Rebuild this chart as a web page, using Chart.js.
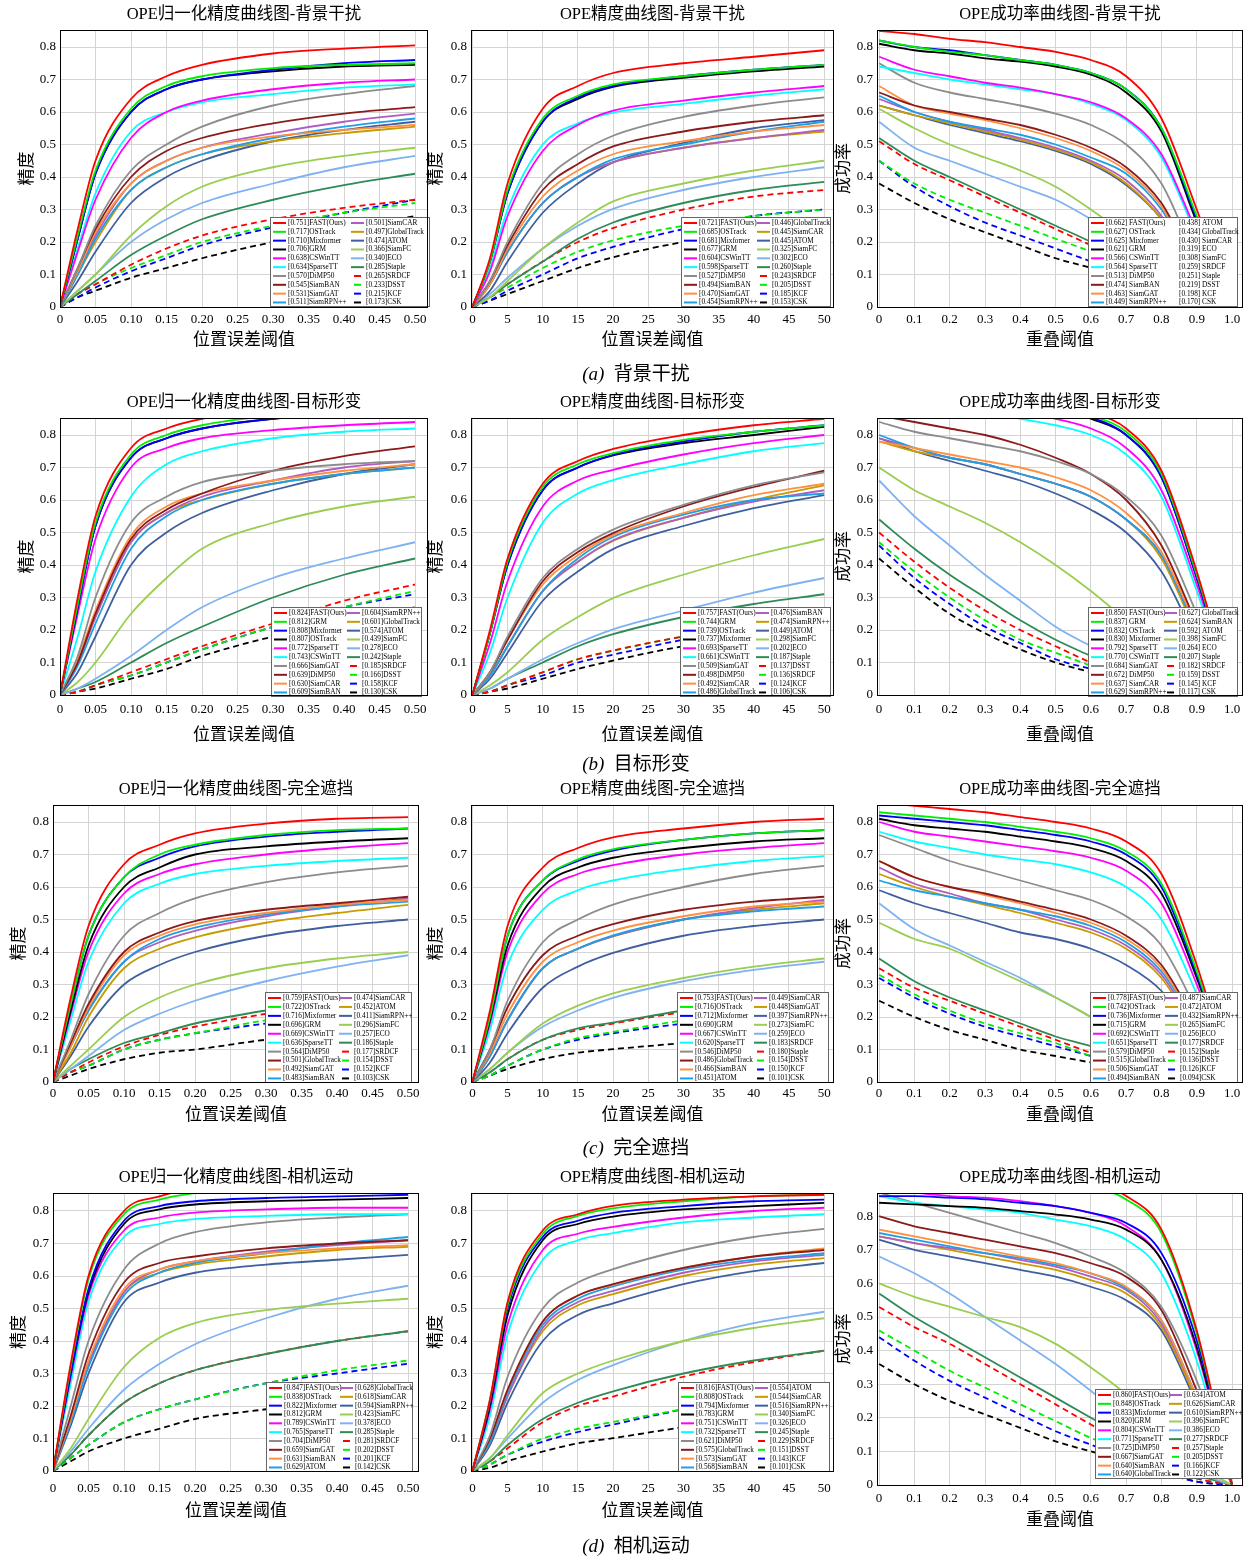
<!DOCTYPE html>
<html><head><meta charset="utf-8">
<script src="https://cdn.jsdelivr.net/npm/chart.js@4.4.0/dist/chart.umd.min.js"></script>
<style>
body{margin:0;background:#fff;width:1248px;height:1559px;position:relative;overflow:hidden;font-family:'Liberation Serif','Noto Sans CJK SC',serif;}
canvas{position:absolute;}
.cap{position:absolute;width:300px;text-align:center;font-size:19px;line-height:24px;color:#000;}
.cap i{font-family:'Liberation Serif',serif;}
</style></head><body>
<script>
// ---------- data ----------
const xNorm = [0,0.025,0.05,0.1,0.15,0.2,0.3,0.4,0.5];
const xPrec = [0,2.5,5,10,15,20,30,40,50];
const xSucc = [0,0.1,0.2,0.3,0.4,0.5,0.6,0.7,0.8,0.9,1.0];
const yTickVals = [0,0.1,0.2,0.3,0.4,0.5,0.6,0.7,0.8];
const yTickLabs = ['0','0.1','0.2','0.3','0.4','0.5','0.6','0.7','0.8'];
const xTickNorm = [0,0.05,0.1,0.15,0.2,0.25,0.3,0.35,0.4,0.45,0.5];
const xLabNorm = ['0','0.05','0.10','0.15','0.20','0.25','0.30','0.35','0.40','0.45','0.50'];
const xTickPrec = [0,5,10,15,20,25,30,35,40,45,50];
const xLabPrec = ['0','5','10','15','20','25','30','35','40','45','50'];
const xTickSucc = [0,0.1,0.2,0.3,0.4,0.5,0.6,0.7,0.8,0.9,1.0];
const xLabSucc = ['0','0.1','0.2','0.3','0.4','0.5','0.6','0.7','0.8','0.9','1.0'];

const titles = ['OPE归一化精度曲线图-背景干扰','OPE精度曲线图-背景干扰','OPE成功率曲线图-背景干扰',
 'OPE归一化精度曲线图-目标形变','OPE精度曲线图-目标形变','OPE成功率曲线图-目标形变',
 'OPE归一化精度曲线图-完全遮挡','OPE精度曲线图-完全遮挡','OPE成功率曲线图-完全遮挡',
 'OPE归一化精度曲线图-相机运动','OPE精度曲线图-相机运动','OPE成功率曲线图-相机运动'];
const captionTags = ['(a)','(b)','(c)','(d)'];
const captionTexts = ['背景干扰','目标形变','完全遮挡','相机运动'];

const labA1 = ['[0.751]FAST(Ours)','[0.717]OSTrack','[0.710]Mixformer','[0.706]GRM','[0.638]CSWinTT','[0.634]SparseTT','[0.570]DiMP50','[0.545]SiamBAN','[0.531]SiamGAT','[0.511]SiamRPN++','[0.501]SiamCAR','[0.497]GlobalTrack','[0.474]ATOM','[0.366]SiamFC','[0.340]ECO','[0.285]Staple','[0.265]SRDCF','[0.233]DSST','[0.215]KCF','[0.173]CSK'];
const valA1 = [
[0,0.24,0.45,0.64,0.71,0.745,0.78,0.795,0.805],
[0,0.22,0.42,0.61,0.68,0.71,0.735,0.745,0.75],
[0,0.21,0.41,0.60,0.67,0.70,0.73,0.75,0.76],
[0,0.21,0.41,0.60,0.67,0.70,0.725,0.74,0.745],
[0,0.17,0.33,0.52,0.60,0.635,0.67,0.69,0.70],
[0,0.18,0.35,0.54,0.60,0.63,0.655,0.675,0.685],
[0,0.12,0.25,0.42,0.50,0.555,0.62,0.655,0.68],
[0,0.12,0.24,0.40,0.48,0.52,0.565,0.595,0.615],
[0,0.11,0.23,0.38,0.45,0.49,0.525,0.545,0.56],
[0,0.10,0.21,0.36,0.43,0.47,0.52,0.555,0.58],
[0,0.11,0.22,0.38,0.45,0.49,0.535,0.57,0.595],
[0,0.10,0.20,0.36,0.43,0.47,0.51,0.535,0.555],
[0,0.08,0.17,0.32,0.40,0.45,0.51,0.545,0.57],
[0,0.05,0.10,0.22,0.31,0.37,0.43,0.465,0.49],
[0,0.05,0.10,0.20,0.27,0.32,0.38,0.43,0.465],
[0,0.04,0.08,0.16,0.22,0.27,0.33,0.375,0.41],
[0,0.04,0.07,0.13,0.18,0.22,0.27,0.305,0.33],
[0,0.04,0.07,0.12,0.16,0.20,0.25,0.29,0.32],
[0,0.03,0.06,0.11,0.15,0.19,0.245,0.29,0.33],
[0,0.03,0.05,0.09,0.12,0.15,0.20,0.24,0.28]];

const labA2 = ['[0.721]FAST(Ours)','[0.685]OSTrack','[0.681]Mixfomer','[0.677]GRM','[0.604]CSWinTT','[0.598]SparseTT','[0.527]DiMP50','[0.494]SiamBAN','[0.470]SiamGAT','[0.454]SiamRPN++','[0.446]GlobalTrack','[0.445]SiamCAR','[0.445]ATOM','[0.325]SiamFC','[0.302]ECO','[0.260]Staple','[0.243]SRDCF','[0.205]DSST','[0.185]KCF','[0.153]CSK'];
const valA2 = [
[0,0.15,0.38,0.61,0.68,0.72,0.75,0.77,0.79],
[0,0.14,0.36,0.58,0.65,0.685,0.71,0.73,0.745],
[0,0.14,0.35,0.57,0.645,0.68,0.71,0.73,0.745],
[0,0.14,0.35,0.57,0.64,0.677,0.705,0.725,0.74],
[0,0.11,0.28,0.48,0.56,0.604,0.635,0.66,0.68],
[0,0.12,0.30,0.50,0.565,0.598,0.625,0.65,0.67],
[0,0.08,0.20,0.38,0.47,0.527,0.585,0.62,0.645],
[0,0.08,0.19,0.36,0.44,0.494,0.54,0.57,0.59],
[0,0.07,0.18,0.34,0.42,0.47,0.51,0.54,0.56],
[0,0.07,0.17,0.32,0.40,0.454,0.50,0.54,0.57],
[0,0.07,0.17,0.32,0.40,0.446,0.49,0.52,0.545],
[0,0.07,0.17,0.32,0.40,0.445,0.49,0.52,0.54],
[0,0.05,0.14,0.29,0.38,0.445,0.505,0.55,0.575],
[0,0.03,0.08,0.18,0.26,0.325,0.38,0.42,0.45],
[0,0.04,0.09,0.18,0.25,0.302,0.36,0.40,0.43],
[0,0.03,0.07,0.14,0.21,0.26,0.32,0.36,0.385],
[0,0.03,0.07,0.14,0.20,0.243,0.30,0.34,0.36],
[0,0.03,0.06,0.12,0.17,0.205,0.25,0.28,0.30],
[0,0.02,0.05,0.10,0.15,0.185,0.24,0.28,0.30],
[0,0.02,0.04,0.08,0.12,0.153,0.20,0.23,0.25]];

const labA3 = ['[0.662] FAST(Ours)','[0.627] OSTrack','[0.625] Mixfomer','[0.621] GRM','[0.566] CSWinTT','[0.564] SparseTT','[0.513] DiMP50','[0.474] SiamBAN','[0.463] SiamGAT','[0.449] SiamRPN++','[0.438] ATOM','[0.434] GlobalTrack','[0.430] SiamCAR','[0.319] ECO','[0.308] SiamFC','[0.259] SRDCF','[0.251] Staple','[0.219] DSST','[0.198] KCF','[0.170] CSK'];
const valA3 = [
[0.85,0.84,0.825,0.815,0.80,0.785,0.76,0.71,0.58,0.30,0],
[0.82,0.80,0.785,0.775,0.76,0.745,0.72,0.67,0.55,0.28,0],
[0.82,0.80,0.79,0.775,0.76,0.745,0.72,0.67,0.55,0.27,0],
[0.81,0.79,0.78,0.765,0.755,0.74,0.715,0.66,0.54,0.26,0],
[0.77,0.73,0.71,0.69,0.675,0.655,0.63,0.58,0.47,0.23,0],
[0.74,0.72,0.70,0.685,0.67,0.655,0.625,0.575,0.46,0.22,0],
[0.75,0.69,0.66,0.64,0.62,0.595,0.56,0.50,0.38,0.15,0],
[0.66,0.62,0.60,0.58,0.56,0.53,0.49,0.43,0.32,0.12,0],
[0.68,0.62,0.595,0.575,0.55,0.52,0.48,0.42,0.31,0.11,0],
[0.65,0.60,0.57,0.55,0.53,0.50,0.46,0.41,0.30,0.11,0],
[0.64,0.60,0.57,0.545,0.52,0.49,0.45,0.39,0.28,0.10,0],
[0.62,0.59,0.565,0.54,0.515,0.485,0.445,0.38,0.27,0.09,0],
[0.62,0.59,0.56,0.535,0.51,0.48,0.44,0.375,0.27,0.09,0],
[0.61,0.55,0.50,0.46,0.42,0.37,0.30,0.22,0.13,0.05,0],
[0.57,0.49,0.45,0.41,0.37,0.33,0.27,0.20,0.12,0.04,0],
[0.52,0.45,0.40,0.35,0.30,0.25,0.20,0.14,0.08,0.03,0],
[0.51,0.44,0.39,0.34,0.29,0.24,0.19,0.14,0.08,0.03,0],
[0.45,0.38,0.33,0.29,0.25,0.21,0.17,0.12,0.07,0.02,0],
[0.45,0.37,0.31,0.26,0.22,0.18,0.14,0.10,0.06,0.02,0],
[0.38,0.32,0.27,0.23,0.19,0.15,0.12,0.08,0.05,0.02,0]];

const labB1 = ['[0.824]FAST(Ours)','[0.812]GRM','[0.808]Mixformer','[0.807]OSTrack','[0.772]SparseTT','[0.743]CSWinTT','[0.666]SiamGAT','[0.639]DiMP50','[0.630]SiamCAR','[0.609]SiamBAN','[0.604]SiamRPN++','[0.601]GlobalTrack','[0.574]ATOM','[0.439]SiamFC','[0.278]ECO','[0.242]Staple','[0.185]SRDCF','[0.166]DSST','[0.158]KCF','[0.130]CSK'];
const valB1 = [
[0,0.30,0.55,0.76,0.82,0.85,0.88,0.89,0.90],
[0,0.28,0.53,0.74,0.80,0.83,0.86,0.875,0.885],
[0,0.27,0.52,0.73,0.79,0.82,0.85,0.865,0.875],
[0,0.27,0.52,0.73,0.79,0.82,0.85,0.86,0.87],
[0,0.25,0.48,0.70,0.76,0.79,0.815,0.83,0.84],
[0,0.18,0.38,0.61,0.71,0.75,0.79,0.81,0.82],
[0,0.12,0.30,0.53,0.61,0.655,0.69,0.71,0.72],
[0,0.10,0.25,0.48,0.57,0.62,0.69,0.735,0.765],
[0,0.11,0.26,0.49,0.58,0.62,0.66,0.69,0.71],
[0,0.09,0.22,0.45,0.55,0.60,0.65,0.68,0.70],
[0,0.10,0.24,0.47,0.56,0.61,0.66,0.70,0.72],
[0,0.10,0.24,0.47,0.56,0.60,0.65,0.68,0.70],
[0,0.07,0.18,0.40,0.50,0.56,0.63,0.68,0.71],
[0,0.04,0.10,0.25,0.36,0.45,0.53,0.58,0.61],
[0,0.02,0.05,0.12,0.20,0.27,0.36,0.42,0.47],
[0,0.02,0.04,0.10,0.16,0.21,0.30,0.37,0.42],
[0,0.01,0.03,0.07,0.11,0.15,0.22,0.29,0.34],
[0,0.01,0.03,0.06,0.10,0.14,0.21,0.27,0.32],
[0,0.01,0.03,0.06,0.10,0.14,0.21,0.27,0.31],
[0,0.01,0.02,0.05,0.08,0.12,0.18,0.23,0.27]];

const labB2 = ['[0.757]FAST(Ours)','[0.744]GRM','[0.739]OSTrack','[0.737]Mixformer','[0.693]SparseTT','[0.661]CSWinTT','[0.509]SiamGAT','[0.498]DiMP50','[0.492]SiamCAR','[0.486]GlobalTrack','[0.476]SiamBAN','[0.474]SiamRPN++','[0.449]ATOM','[0.298]SiamFC','[0.202]ECO','[0.187]Staple','[0.137]DSST','[0.136]SRDCF','[0.124]KCF','[0.106]CSK'];
const valB2 = [
[0,0.20,0.42,0.65,0.72,0.757,0.80,0.83,0.85],
[0,0.19,0.41,0.64,0.71,0.744,0.785,0.81,0.83],
[0,0.19,0.40,0.63,0.70,0.739,0.78,0.81,0.83],
[0,0.19,0.40,0.63,0.70,0.737,0.775,0.80,0.825],
[0,0.16,0.35,0.58,0.66,0.693,0.74,0.775,0.80],
[0,0.13,0.30,0.53,0.62,0.661,0.71,0.75,0.775],
[0,0.07,0.18,0.36,0.45,0.509,0.585,0.645,0.685],
[0,0.07,0.17,0.35,0.44,0.498,0.58,0.64,0.69],
[0,0.07,0.17,0.34,0.43,0.492,0.56,0.615,0.65],
[0,0.06,0.15,0.32,0.42,0.486,0.555,0.60,0.62],
[0,0.06,0.15,0.32,0.41,0.476,0.545,0.595,0.63],
[0,0.06,0.15,0.32,0.41,0.474,0.545,0.60,0.645],
[0,0.05,0.13,0.29,0.38,0.449,0.52,0.575,0.615],
[0,0.03,0.07,0.17,0.24,0.298,0.37,0.43,0.48],
[0,0.02,0.05,0.11,0.16,0.202,0.26,0.315,0.36],
[0,0.02,0.05,0.10,0.15,0.187,0.24,0.28,0.31],
[0,0.01,0.03,0.07,0.11,0.137,0.18,0.215,0.24],
[0,0.01,0.03,0.07,0.11,0.136,0.18,0.21,0.23],
[0,0.01,0.03,0.06,0.10,0.124,0.17,0.20,0.22],
[0,0.01,0.02,0.05,0.08,0.106,0.15,0.18,0.20]];

const labB3 = ['[0.850] FAST(Ours)','[0.837] GRM','[0.832] OSTrack','[0.830] Mixformer','[0.792] SparseTT','[0.770] CSWinTT','[0.684] SiamGAT','[0.672] DiMP50','[0.637] SiamCAR','[0.629] SiamRPN++','[0.627] GlobalTrack','[0.624] SiamBAN','[0.592] ATOM','[0.398] SiamFC','[0.264] ECO','[0.207] Staple','[0.182] SRDCF','[0.159] DSST','[0.145] KCF','[0.117] CSK'];
const valB3 = [
[0.97,0.96,0.95,0.94,0.92,0.90,0.87,0.82,0.69,0.38,0],
[0.96,0.95,0.94,0.93,0.91,0.89,0.86,0.81,0.68,0.37,0],
[0.96,0.95,0.94,0.92,0.90,0.885,0.855,0.80,0.67,0.36,0],
[0.96,0.95,0.94,0.92,0.90,0.885,0.85,0.80,0.67,0.36,0],
[0.94,0.92,0.90,0.89,0.87,0.85,0.82,0.76,0.63,0.34,0],
[0.93,0.91,0.89,0.87,0.85,0.83,0.80,0.74,0.61,0.32,0],
[0.84,0.81,0.79,0.77,0.75,0.72,0.68,0.61,0.49,0.25,0],
[0.86,0.84,0.82,0.80,0.77,0.73,0.68,0.60,0.46,0.22,0],
[0.78,0.76,0.74,0.72,0.70,0.67,0.63,0.56,0.44,0.21,0],
[0.80,0.76,0.73,0.71,0.68,0.65,0.61,0.54,0.43,0.20,0],
[0.79,0.76,0.73,0.71,0.68,0.65,0.61,0.54,0.43,0.20,0],
[0.78,0.75,0.73,0.71,0.68,0.65,0.61,0.54,0.42,0.19,0],
[0.79,0.75,0.72,0.69,0.66,0.62,0.57,0.50,0.38,0.17,0],
[0.70,0.63,0.58,0.53,0.47,0.40,0.32,0.23,0.14,0.05,0],
[0.66,0.55,0.46,0.37,0.29,0.21,0.15,0.09,0.05,0.02,0],
[0.54,0.45,0.37,0.30,0.23,0.17,0.12,0.07,0.04,0.01,0],
[0.50,0.41,0.33,0.26,0.20,0.15,0.10,0.06,0.03,0.01,0],
[0.47,0.38,0.30,0.23,0.17,0.13,0.09,0.05,0.03,0.01,0],
[0.46,0.36,0.28,0.21,0.16,0.11,0.08,0.05,0.02,0.01,0],
[0.42,0.33,0.25,0.19,0.14,0.10,0.07,0.04,0.02,0.01,0]];

const labC1 = ['[0.759]FAST(Ours)','[0.722]OSTrack','[0.716]Mixformer','[0.696]GRM','[0.669]CSWinTT','[0.636]SparseTT','[0.564]DiMP50','[0.501]GlobalTrack','[0.492]SiamGAT','[0.483]SiamBAN','[0.474]SiamCAR','[0.452]ATOM','[0.411]SiamRPN++','[0.296]SiamFC','[0.257]ECO','[0.186]Staple','[0.177]SRDCF','[0.154]DSST','[0.152]KCF','[0.103]CSK'];
const valC1 = [
[0,0.26,0.48,0.67,0.73,0.765,0.795,0.81,0.815],
[0,0.24,0.45,0.63,0.70,0.73,0.76,0.775,0.78],
[0,0.24,0.45,0.63,0.69,0.725,0.755,0.77,0.78],
[0,0.22,0.42,0.60,0.66,0.70,0.725,0.74,0.75],
[0,0.21,0.40,0.58,0.64,0.67,0.70,0.72,0.735],
[0,0.19,0.37,0.55,0.61,0.64,0.665,0.68,0.69],
[0,0.13,0.27,0.45,0.52,0.565,0.615,0.645,0.665],
[0,0.12,0.24,0.40,0.46,0.495,0.53,0.55,0.57],
[0,0.11,0.23,0.39,0.45,0.485,0.52,0.545,0.56],
[0,0.11,0.22,0.37,0.44,0.475,0.515,0.54,0.555],
[0,0.11,0.22,0.37,0.43,0.465,0.51,0.54,0.565],
[0,0.09,0.20,0.35,0.41,0.445,0.49,0.52,0.545],
[0,0.08,0.17,0.30,0.36,0.40,0.45,0.48,0.50],
[0,0.05,0.10,0.20,0.26,0.30,0.35,0.38,0.40],
[0,0.04,0.08,0.16,0.21,0.25,0.31,0.355,0.39],
[0,0.04,0.07,0.12,0.15,0.18,0.22,0.25,0.27],
[0,0.03,0.06,0.11,0.145,0.17,0.21,0.24,0.26],
[0,0.03,0.05,0.10,0.13,0.15,0.19,0.22,0.25],
[0,0.03,0.05,0.10,0.13,0.15,0.18,0.21,0.23],
[0,0.02,0.04,0.07,0.09,0.10,0.13,0.15,0.17]];

const labC2 = ['[0.753]FAST(Ours)','[0.716]OSTrack','[0.712]Mixformer','[0.690]GRM','[0.667]CSWinTT','[0.620]SparseTT','[0.546]DiMP50','[0.486]GlobalTrack','[0.466]SiamBAN','[0.451]ATOM','[0.449]SiamCAR','[0.448]SiamGAT','[0.397]SiamRPN++','[0.273]SiamFC','[0.259]ECO','[0.183]SRDCF','[0.180]Staple','[0.154]DSST','[0.150]KCF','[0.101]CSK'];
const valC2 = [
[0,0.22,0.48,0.66,0.72,0.753,0.78,0.80,0.81],
[0,0.20,0.45,0.62,0.685,0.716,0.745,0.765,0.775],
[0,0.20,0.45,0.62,0.68,0.712,0.745,0.765,0.775],
[0,0.19,0.42,0.60,0.66,0.69,0.72,0.74,0.75],
[0,0.18,0.40,0.58,0.64,0.667,0.70,0.72,0.735],
[0,0.16,0.36,0.53,0.59,0.62,0.655,0.68,0.695],
[0,0.10,0.25,0.43,0.50,0.546,0.60,0.64,0.665],
[0,0.10,0.23,0.39,0.45,0.486,0.53,0.555,0.57],
[0,0.09,0.21,0.37,0.43,0.466,0.51,0.54,0.555],
[0,0.08,0.19,0.35,0.41,0.451,0.50,0.525,0.54],
[0,0.08,0.19,0.35,0.41,0.449,0.50,0.535,0.56],
[0,0.08,0.19,0.35,0.41,0.448,0.50,0.53,0.55],
[0,0.06,0.15,0.29,0.355,0.397,0.45,0.48,0.50],
[0,0.04,0.09,0.18,0.235,0.273,0.32,0.355,0.38],
[0,0.04,0.09,0.17,0.22,0.259,0.31,0.345,0.37],
[0,0.03,0.07,0.13,0.165,0.183,0.22,0.25,0.27],
[0,0.03,0.07,0.13,0.16,0.18,0.215,0.24,0.26],
[0,0.02,0.05,0.10,0.135,0.154,0.19,0.22,0.24],
[0,0.02,0.05,0.10,0.13,0.15,0.18,0.205,0.22],
[0,0.02,0.04,0.07,0.09,0.101,0.12,0.14,0.16]];

const labC3 = ['[0.778]FAST(Ours)','[0.742]OSTrack','[0.736]Mixformer','[0.715]GRM','[0.692]CSWinTT','[0.651]SparseTT','[0.579]DiMP50','[0.515]GlobalTrack','[0.506]SiamGAT','[0.494]SiamBAN','[0.487]SiamCAR','[0.472]ATOM','[0.432]SiamRPN++','[0.265]SiamFC','[0.256]ECO','[0.177]SRDCF','[0.152]Staple','[0.136]DSST','[0.126]KCF','[0.094]CSK'];
const valC3 = [
[0.86,0.85,0.84,0.83,0.815,0.80,0.78,0.74,0.64,0.36,0],
[0.83,0.82,0.81,0.80,0.785,0.77,0.75,0.71,0.61,0.34,0],
[0.82,0.81,0.80,0.79,0.775,0.76,0.74,0.70,0.60,0.33,0],
[0.81,0.79,0.78,0.77,0.755,0.74,0.72,0.68,0.58,0.32,0],
[0.80,0.77,0.755,0.74,0.725,0.71,0.69,0.65,0.55,0.30,0],
[0.77,0.74,0.72,0.70,0.685,0.67,0.645,0.60,0.50,0.27,0],
[0.76,0.72,0.68,0.65,0.62,0.59,0.56,0.51,0.42,0.22,0],
[0.68,0.63,0.60,0.58,0.555,0.53,0.50,0.45,0.36,0.18,0],
[0.68,0.63,0.60,0.575,0.55,0.52,0.49,0.44,0.35,0.17,0],
[0.62,0.59,0.57,0.55,0.53,0.51,0.48,0.43,0.34,0.17,0],
[0.66,0.61,0.58,0.55,0.53,0.50,0.47,0.42,0.33,0.16,0],
[0.64,0.60,0.57,0.545,0.52,0.49,0.46,0.41,0.32,0.15,0],
[0.59,0.55,0.52,0.49,0.46,0.44,0.41,0.36,0.28,0.13,0],
[0.49,0.44,0.41,0.36,0.31,0.26,0.20,0.14,0.08,0.03,0],
[0.55,0.47,0.42,0.37,0.32,0.26,0.20,0.13,0.07,0.02,0],
[0.38,0.31,0.26,0.22,0.18,0.14,0.11,0.07,0.04,0.01,0],
[0.35,0.29,0.25,0.21,0.17,0.13,0.09,0.06,0.03,0.01,0],
[0.33,0.27,0.22,0.18,0.15,0.12,0.08,0.05,0.03,0.01,0],
[0.32,0.26,0.21,0.17,0.14,0.11,0.08,0.05,0.03,0.01,0],
[0.25,0.20,0.16,0.13,0.10,0.08,0.06,0.04,0.02,0.01,0]];

const labD1 = ['[0.847]FAST(Ours)','[0.838]OSTrack','[0.822]Mixformer','[0.812]GRM','[0.789]CSWinTT','[0.765]SparseTT','[0.704]DiMP50','[0.659]SiamGAT','[0.631]SiamBAN','[0.629]ATOM','[0.628]GlobalTrack','[0.618]SiamCAR','[0.594]SiamRPN++','[0.423]SiamFC','[0.378]ECO','[0.285]Staple','[0.281]SRDCF','[0.202]DSST','[0.201]KCF','[0.142]CSK'];
const valD1 = [
[0,0.33,0.60,0.80,0.845,0.87,0.89,0.90,0.905],
[0,0.32,0.59,0.79,0.835,0.855,0.875,0.885,0.89],
[0,0.30,0.56,0.77,0.815,0.83,0.84,0.845,0.85],
[0,0.30,0.55,0.76,0.805,0.82,0.83,0.835,0.84],
[0,0.29,0.54,0.74,0.78,0.795,0.805,0.81,0.81],
[0,0.27,0.52,0.72,0.76,0.775,0.785,0.79,0.79],
[0,0.20,0.40,0.62,0.70,0.735,0.765,0.78,0.79],
[0,0.17,0.36,0.58,0.64,0.66,0.685,0.70,0.71],
[0,0.16,0.34,0.56,0.62,0.645,0.67,0.685,0.695],
[0,0.15,0.32,0.54,0.61,0.64,0.67,0.70,0.72],
[0,0.16,0.33,0.55,0.62,0.645,0.675,0.695,0.71],
[0,0.16,0.33,0.55,0.61,0.635,0.66,0.68,0.69],
[0,0.14,0.30,0.52,0.58,0.61,0.635,0.65,0.665],
[0,0.07,0.16,0.32,0.41,0.455,0.495,0.515,0.53],
[0,0.06,0.13,0.25,0.33,0.39,0.47,0.53,0.57],
[0,0.05,0.11,0.21,0.27,0.31,0.36,0.40,0.43],
[0,0.05,0.11,0.21,0.27,0.31,0.36,0.40,0.43],
[0,0.04,0.08,0.15,0.19,0.22,0.27,0.31,0.34],
[0,0.04,0.08,0.15,0.19,0.22,0.27,0.30,0.33],
[0,0.03,0.06,0.10,0.13,0.16,0.19,0.22,0.25]];

const labD2 = ['[0.816]FAST(Ours)','[0.808]OSTrack','[0.794]Mixformer','[0.783]GRM','[0.751]CSWinTT','[0.732]SparseTT','[0.621]DiMP50','[0.575]GlobalTrack','[0.573]SiamGAT','[0.568]SiamBAN','[0.554]ATOM','[0.544]SiamCAR','[0.516]SiamRPN++','[0.340]SiamFC','[0.326]ECO','[0.245]Staple','[0.229]SRDCF','[0.151]DSST','[0.143]KCF','[0.101]CSK'];
const valD2 = [
[0,0.22,0.52,0.74,0.79,0.816,0.835,0.845,0.85],
[0,0.22,0.51,0.73,0.785,0.808,0.83,0.845,0.85],
[0,0.21,0.50,0.72,0.77,0.794,0.815,0.83,0.835],
[0,0.20,0.48,0.71,0.76,0.783,0.805,0.815,0.825],
[0,0.19,0.45,0.68,0.73,0.751,0.78,0.80,0.81],
[0,0.17,0.42,0.65,0.71,0.732,0.765,0.78,0.79],
[0,0.11,0.29,0.50,0.58,0.621,0.68,0.72,0.745],
[0,0.10,0.25,0.46,0.54,0.575,0.625,0.66,0.68],
[0,0.10,0.25,0.46,0.54,0.573,0.625,0.66,0.685],
[0,0.09,0.24,0.45,0.53,0.568,0.62,0.65,0.67],
[0,0.09,0.23,0.44,0.52,0.554,0.61,0.645,0.665],
[0,0.09,0.23,0.43,0.51,0.544,0.60,0.635,0.655],
[0,0.08,0.21,0.40,0.48,0.516,0.575,0.615,0.64],
[0,0.04,0.11,0.24,0.30,0.34,0.40,0.44,0.47],
[0,0.04,0.10,0.21,0.28,0.326,0.40,0.455,0.49],
[0,0.03,0.08,0.16,0.21,0.245,0.30,0.34,0.37],
[0,0.03,0.07,0.15,0.20,0.229,0.29,0.335,0.37],
[0,0.02,0.05,0.10,0.13,0.151,0.19,0.225,0.25],
[0,0.02,0.05,0.09,0.12,0.143,0.19,0.23,0.26],
[0,0.01,0.03,0.06,0.085,0.101,0.135,0.165,0.19]];

const labD3 = ['[0.860]FAST(Ours)','[0.848]OSTrack','[0.833]Mixformer','[0.820]GRM','[0.804]CSWinTT','[0.771]SparseTT','[0.725]DiMP50','[0.667]SiamGAT','[0.640]SiamBAN','[0.640]GlobalTrack','[0.634]ATOM','[0.626]SiamCAR','[0.610]SiamRPN++','[0.396]SiamFC','[0.386]ECO','[0.277]SRDCF','[0.257]Staple','[0.205]DSST','[0.166]KCF','[0.122]CSK'];
const valD3 = [
[0.98,0.97,0.96,0.95,0.94,0.92,0.90,0.86,0.76,0.46,0],
[0.97,0.96,0.95,0.94,0.93,0.91,0.89,0.85,0.75,0.45,0],
[0.86,0.86,0.855,0.85,0.84,0.83,0.81,0.78,0.69,0.43,0],
[0.84,0.835,0.83,0.825,0.815,0.805,0.79,0.76,0.67,0.41,0],
[0.88,0.87,0.86,0.855,0.845,0.83,0.81,0.77,0.67,0.40,0],
[0.86,0.84,0.83,0.82,0.81,0.79,0.77,0.73,0.63,0.37,0],
[0.87,0.84,0.81,0.78,0.75,0.72,0.68,0.63,0.53,0.31,0],
[0.80,0.77,0.75,0.73,0.71,0.69,0.66,0.62,0.52,0.28,0],
[0.76,0.74,0.72,0.70,0.68,0.66,0.63,0.59,0.49,0.26,0],
[0.75,0.73,0.71,0.69,0.675,0.655,0.63,0.585,0.49,0.26,0],
[0.74,0.72,0.705,0.69,0.67,0.65,0.62,0.58,0.48,0.26,0],
[0.74,0.72,0.70,0.68,0.66,0.64,0.61,0.57,0.47,0.25,0],
[0.73,0.70,0.68,0.66,0.64,0.62,0.59,0.55,0.46,0.24,0],
[0.60,0.56,0.53,0.50,0.47,0.42,0.35,0.27,0.17,0.06,0],
[0.68,0.63,0.57,0.50,0.43,0.36,0.28,0.20,0.12,0.04,0],
[0.57,0.50,0.44,0.38,0.32,0.26,0.20,0.14,0.08,0.03,0],
[0.53,0.47,0.42,0.36,0.30,0.24,0.18,0.12,0.07,0.02,0],
[0.46,0.40,0.34,0.29,0.24,0.19,0.14,0.10,0.06,0.02,0],
[0.44,0.37,0.31,0.26,0.21,0.16,0.12,0.08,0.04,0.01,0],
[0.36,0.30,0.25,0.21,0.17,0.13,0.10,0.07,0.04,0.01,0]];

// ---------- style / layout ----------
const FONT = "'Liberation Serif', 'Noto Sans CJK SC', serif";
const COLORS = ['#ff0000','#00ee00','#0000ff','#000000','#ff00ff','#00ffff','#8c8c8c','#8b1a1a','#ff9040','#1e9fe6','#b05cc0','#c89b00','#3f5f9f','#9acd50','#7fb2f0','#2e8b57','#ff0000','#00ee00','#0000ff','#000000'];

const kinds = ['norm','prec','succ'];
const rowGeo = [
  {T:30, B:307, dt:13, dT:34, L1:60, R1:428, yt1:28},
  {T:418, B:695, dt:15, dT:41, L1:60, R1:428, yt1:28},
  {T:805, B:1082, dt:12, dT:34, L1:53, R1:419, yt1:20},
  {T:1193, B:1471, dt:18, dT:41, L1:53, R1:419, yt1:20}
];
const legendBoxes = [
  [270,217,160,90],[681,217,150,90],[1088,217,150,90],
  [271,607,151,90],[680,607,151,90],[1088,607,150,90],
  [265,992,147,91],[677,992,152,91],[1090,992,148,91],
  [266,1382,147,90],[678,1382,152,90],[1095,1389,147,90]
];
const panelVals = [valA1,valA2,valA3,valB1,valB2,valB3,valC1,valC2,valC3,valD1,valD2,valD3];
const panelLabs = [labA1,labA2,labA3,labB1,labB2,labB3,labC1,labC2,labC3,labD1,labD2,labD3];

const boxLegend = {
  id:'boxLegend',
  afterDatasetsDraw(chart, args, o) {
    const ctx = chart.ctx;
    const x = o.box[0]-o.cl, y = o.box[1]-o.ct, w = o.box[2], h = o.box[3];
    const a = chart.chartArea;
    ctx.save();
    ctx.fillStyle = '#fff'; ctx.fillRect(x, y, w, h);
    ctx.strokeStyle = '#666'; ctx.lineWidth = 1; ctx.setLineDash([]);
    ctx.strokeRect(Math.round(x)+0.5, Math.round(y)+0.5, w-1, h-1);
    ctx.font = '7.3px ' + FONT; ctx.textBaseline = 'middle'; ctx.textAlign = 'left';
    const rh = (h-7)/9.4;
    chart.data.datasets.forEach((ds, i) => {
      const col = Math.floor(i/10), row = i % 10;
      const cx = x + (col ? o.c2 : 3);
      const cy = y + 6 + row*rh;
      if (!(col && o.noLine2)) {
        ctx.strokeStyle = ds.borderColor; ctx.lineWidth = 2;
        ctx.beginPath();
        if (i >= 16) { ctx.moveTo(cx+3, cy); ctx.lineTo(cx+10, cy); }
        else { ctx.moveTo(cx, cy); ctx.lineTo(cx+13, cy); }
        ctx.stroke();
      }
      ctx.fillStyle = '#000';
      ctx.fillText(ds.label, cx+15, cy);
    });
    // frame
    ctx.strokeStyle = '#000'; ctx.lineWidth = 1;
    ctx.strokeRect(Math.round(a.left)+0.5, Math.round(a.top)+0.5, Math.round(a.right-a.left)-1, Math.round(a.bottom-a.top));
    ctx.restore();
  }
};

function makePanel(idx) {
  const r = Math.floor(idx/3), c = idx % 3;
  const g = rowGeo[r];
  let L, R, cl, ytx, xmin, xmax, xs, xt, xl, xtitle, ytitle;
  let T = g.T, B = g.B, dt = g.dt, dT = g.dT;
  if (c === 0) { L = g.L1; R = g.R1; cl = 0; ytx = g.yt1; xmin = 0; xmax = 0.5 + (R - L - 355)/710; xs = xNorm; xt = xTickNorm; xl = xLabNorm; xtitle='位置误差阈值'; ytitle='精度'; }
  else if (c === 1) { L = 471; R = 834; cl = 421; ytx = 437; xmin = -0.2; xmax = 51.4; xs = xPrec; xt = xTickPrec; xl = xLabPrec; xtitle='位置误差阈值'; ytitle='精度'; }
  else { L = 877; R = 1243; cl = 827; ytx = 845; xmin = -0.006; xmax = 1.031; xs = xSucc; xt = xTickSucc; xl = xLabSucc; xtitle='重叠阈值'; ytitle='成功率'; }
  let pxPerUnit = 325;
  if (idx === 11) { B = 1485; pxPerUnit = 336; dt = 14; dT = 36; }
  const ymax = (B - T)/pxPerUnit;
  const yw = L - cl;
  const XH = 52;
  const W = (R - cl) + 12;
  const H = 30 + (B - T) + XH;
  const ct = T - 30;
  const cv = document.createElement('canvas');
  cv.width = W; cv.height = H;
  cv.style.left = cl + 'px'; cv.style.top = ct + 'px';
  cv.style.width = W + 'px'; cv.style.height = H + 'px';
  document.body.appendChild(cv);
  const vals = panelVals[idx], labs = panelLabs[idx];
  const datasets = labs.map((lab, i) => ({
    label: lab,
    data: xs.map((x, j) => ({x: x, y: vals[i][j]})),
    borderColor: COLORS[i], backgroundColor: COLORS[i],
    borderWidth: 1.8, borderDash: i >= 16 ? [6,4] : [],
    pointRadius: 0, fill: false, cubicInterpolationMode: 'monotone'
  }));
  const lb = legendBoxes[idx];
  new Chart(cv, {
    type: 'line',
    data: {datasets},
    options: {
      responsive: false, animation: false, devicePixelRatio: 1,
      layout: {padding: {left: 0, right: 12, top: 0, bottom: 0}},
      plugins: {
        legend: {display: false}, tooltip: {enabled: false},
        title: {display: true, fullSize: false, text: titles[idx], color: '#000', font: {family: FONT, size: 16.5, weight: 'normal'}, padding: {top: 4.5, bottom: 5.7}},
        boxLegend: {box: lb, cl: cl, ct: ct, c2: Math.round(lb[2]*0.505), noLine2: idx === 2}
      },
      scales: {
        x: {
          type: 'linear', min: xmin, max: xmax,
          afterFit: s => { s.height = XH; },
          afterBuildTicks: s => { s.ticks = xt.map(v => ({value: v})); },
          ticks: {callback: (v, i) => xl[i], font: {family: FONT, size: 13}, color: '#000', padding: dt - 7.8, maxRotation: 0, minRotation: 0, autoSkip: false},
          grid: {color: '#d4d4d4', lineWidth: 1, drawTicks: false},
          border: {display: false},
          title: {display: true, text: xtitle, color: '#000', font: {family: FONT, size: 17}, padding: {top: 0, bottom: XH - dT - 10.2}}
        },
        y: {
          type: 'linear', min: 0, max: ymax,
          afterFit: s => { s.width = yw; },
          afterBuildTicks: s => { s.ticks = yTickVals.map(v => ({value: v})); },
          ticks: {callback: (v, i) => yTickLabs[i], font: {family: FONT, size: 13}, color: '#000', padding: 4, autoSkip: false},
          grid: {color: '#d4d4d4', lineWidth: 1, drawTicks: false},
          border: {display: false},
          title: {display: true, text: ytitle, color: '#000', font: {family: FONT, size: 17}, padding: {top: ytx - cl - 10.2, bottom: 0}}
        }
      }
    },
    plugins: [boxLegend]
  });
}

for (let i = 0; i < 12; i++) makePanel(i);

// captions
const capY = [362, 752, 1136, 1534];
for (let r = 0; r < 4; r++) {
  const d = document.createElement('div');
  d.className = 'cap';
  d.style.left = (636 - 150) + 'px';
  d.style.top = capY[r] + 'px';
  d.innerHTML = '<i>' + captionTags[r] + '</i>&nbsp;&nbsp;' + captionTexts[r];
  document.body.appendChild(d);
}
</script>
</body></html>
